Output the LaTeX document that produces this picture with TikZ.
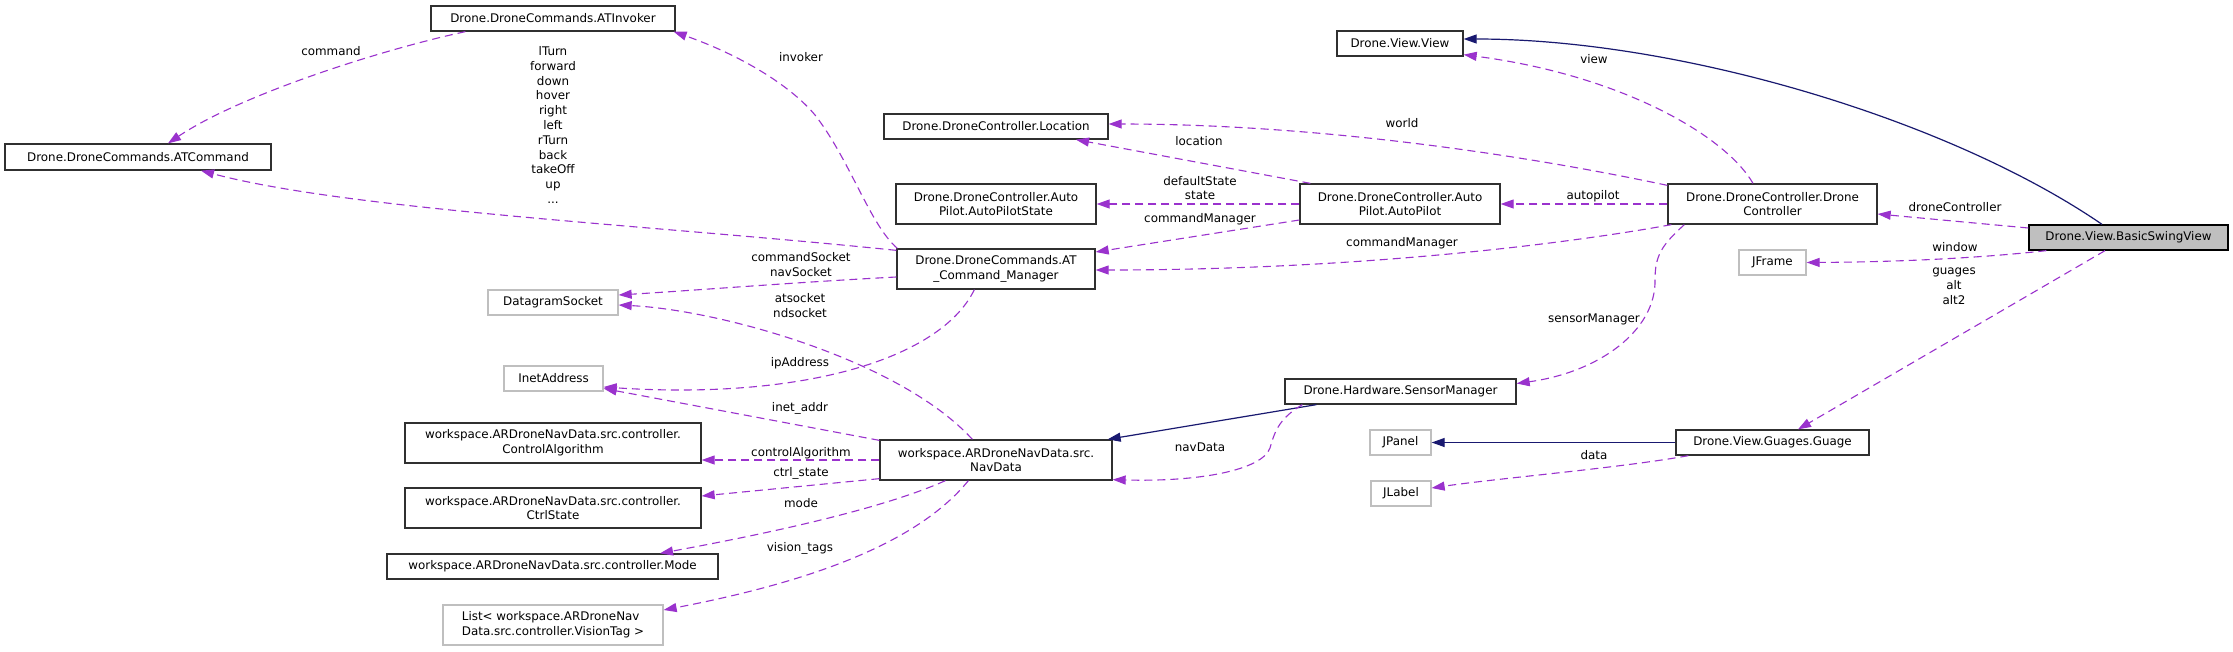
\documentclass[tikz,border=0pt]{standalone}
\usepackage{fontspec}
\setmainfont{DejaVu Sans}
\usetikzlibrary{arrows.meta,calc}
\definecolor{depc}{HTML}{9A32CD}
\definecolor{inhc}{HTML}{191970}
\definecolor{undoc}{HTML}{BFBFBF}
\definecolor{boxc}{HTML}{303030}
\begin{document}
\begin{tikzpicture}[x=1pt,y=-1pt,
  txt/.style={font=\fontsize{11.9}{14.8}\selectfont},
  cls/.style={txt,draw=boxc,line width=1.3pt,rectangle,inner sep=0pt,align=center},
  ucls/.style={cls,draw=undoc},
  lbl/.style={txt,inner sep=0pt,align=center},
  dep/.style={draw=depc,line width=1.1pt,dash pattern=on 8pt off 5pt,-{Triangle[length=13pt,width=9pt]}},
  inh/.style={draw=inhc,line width=1.2pt,-{Triangle[length=13pt,width=9pt]}}]
\fill[white] (0,0) rectangle (2233,651);
\useasboundingbox (0,0) rectangle (2233,651);

% nodes
\node[cls,minimum width=244pt,minimum height=25pt] (invk) at (553,18.5) {Drone.DroneCommands.ATInvoker};
\node[cls,minimum width=266pt,minimum height=26pt] (atcmd) at (138,157) {Drone.DroneCommands.ATCommand};
\node[ucls,minimum width=130pt,minimum height=25pt] (dgram) at (553,302.5) {DatagramSocket};
\node[ucls,minimum width=99pt,minimum height=25pt] (inet) at (553.5,378.5) {InetAddress};
\node[cls,minimum width=296pt,minimum height=40pt] (ctrlalg) at (553,443) {workspace.ARDroneNavData.src.controller.\\ControlAlgorithm};
\node[cls,minimum width=296pt,minimum height=40pt] (ctrlst) at (553,508) {workspace.ARDroneNavData.src.controller.\\CtrlState};
\node[cls,minimum width=331pt,minimum height=25pt] (mode) at (552.5,566.5) {workspace.ARDroneNavData.src.controller.Mode};
\node[ucls,minimum width=220pt,minimum height=40pt,align=left] (list) at (553,625) {List\textless{} workspace.ARDroneNav\\Data.src.controller.VisionTag \textgreater};
\node[cls,minimum width=126pt,minimum height=25pt] (view) at (1400,43.5) {Drone.View.View};
\node[cls,minimum width=224pt,minimum height=25pt] (loc) at (996,126.5) {Drone.DroneController.Location};
\node[cls,minimum width=200pt,minimum height=40pt] (apstate) at (996,204) {Drone.DroneController.Auto\\Pilot.AutoPilotState};
\node[cls,minimum width=200pt,minimum height=40pt] (ap) at (1400,204) {Drone.DroneController.Auto\\Pilot.AutoPilot};
\node[cls,minimum width=198pt,minimum height=40pt] (atcm) at (996,269) {Drone.DroneCommands.AT\\\_Command\_Manager};
\node[cls,minimum width=231pt,minimum height=25pt] (sens) at (1400.5,391.5) {Drone.Hardware.SensorManager};
\node[cls,minimum width=232pt,minimum height=40pt] (nav) at (996,460) {workspace.ARDroneNavData.src.\\NavData};
\node[ucls,minimum width=61pt,minimum height=25pt] (jpanel) at (1400.5,442.5) {JPanel};
\node[ucls,minimum width=60pt,minimum height=25pt] (jlabel) at (1401,493.5) {JLabel};
\node[cls,minimum width=209pt,minimum height=40pt] (dc) at (1772.5,204) {Drone.DroneController.Drone\\Controller};
\node[cls,fill=undoc,draw=black,minimum width=199pt,minimum height=25pt] (bsv) at (2128.5,237.5) {Drone.View.BasicSwingView};
\node[ucls,minimum width=67pt,minimum height=25pt] (jframe) at (1772.5,262.5) {JFrame};
\node[cls,minimum width=193pt,minimum height=25pt] (guage) at (1772.5,442.5) {Drone.View.Guages.Guage};

% edges
\draw[inh] ($(bsv.north)+(-26.5,0)$) .. controls (1950,120) and (1680,39) .. ($(view.east)+(0,-4.5)$);
\draw[dep] ($(dc.north)+(-19.5,0)$) .. controls (1725,135) and (1620,75) .. ($(view.south east)+(0,-2)$);
\draw[dep] ($(dc.north west)+(0,2)$) .. controls (1500,150) and (1300,124) .. ($(loc.east)+(0,-2.5)$);
\draw[dep] ($(ap.north west)+(11,0)$) -- ($(loc.south)+(80,0)$);
\draw[dep] (ap.west) -- (apstate.east);
\draw[dep] ($(ap.west)+(0,16)$) -- ($(atcm.east)+(0,-17)$);
\draw[dep] (dc.west) -- (ap.east);
\draw[dep] ($(dc.south west)+(4,0)$) .. controls (1560,245) and (1350,270) .. ($(atcm.east)+(0,1)$);
\draw[dep] ($(dc.south west)+(17,0)$) .. controls (1662,245) and (1655,255) .. (1655,280) .. controls (1656,330) and (1600,372) .. ($(sens.east)+(0,-8)$);
\draw[dep] ($(bsv.west)+(0,-9.5)$) -- ($(dc.east)+(0,10)$);
\draw[dep] ($(bsv.south west)+(18,0)$) .. controls (1980,258) and (1900,262) .. (jframe.east);
\draw[dep] ($(bsv.south)+(-23.5,0)$) -- ($(guage.north)+(25.5,0)$);
\draw[inh] (guage.west) -- (jpanel.east);
\draw[dep] ($(guage.south west)+(13,0)$) .. controls (1620,468) and (1500,478) .. ($(jlabel.east)+(0,-5.5)$);
\draw[dep] ($(atcm.north west)+(1,0)$) .. controls (870,225) and (850,160) .. (815,115) .. controls (790,85) and (740,55) .. ($(invk.south east)+(-2,0)$);
\draw[dep] ($(atcm.north west)+(0,2)$) .. controls (650,225) and (350,210) .. ($(atcmd.south)+(63,0)$);
\draw[dep] ($(invk.south west)+(35,0)$) .. controls (380,50) and (240,95) .. ($(atcmd.north)+(30,0)$);
\draw[dep] ($(atcm.west)+(0,8)$) .. controls (800,282) and (700,290) .. ($(dgram.east)+(0,-7.5)$);
\draw[dep] ($(nav.north west)+(93,0)$) .. controls (900,360) and (720,310) .. ($(dgram.east)+(0,2.5)$);
\draw[dep] ($(atcm.south west)+(78,0)$) .. controls (940,360) and (800,400) .. ($(inet.east)+(0,8.5)$);
\draw[dep] ($(nav.north west)+(0,1)$) -- ($(inet.east)+(0,10)$);
\draw[dep] (nav.west) -- ($(ctrlalg.east)+(0,17)$);
\draw[dep] ($(nav.south west)+(0,-2)$) -- ($(ctrlst.east)+(0,-12)$);
\draw[dep] ($(nav.south west)+(66,0)$) .. controls (880,510) and (760,535) .. ($(mode.north)+(107.5,0)$);
\draw[dep] ($(nav.south west)+(89,0)$) .. controls (920,540) and (820,580) .. ($(list.east)+(0,-15)$);
\draw[inh] ($(sens.south west)+(32,0)$) -- ($(nav.north east)+(-5,0)$);
\draw[dep] ($(sens.south west)+(18,0)$) .. controls (1280,418) and (1275,430) .. (1270,448) .. controls (1262,470) and (1200,482) .. ($(nav.south east)+(0,-1)$);

% labels
\node[lbl] (l-command) at (331,51) {command};
\node[lbl] (l-cmds) at (553,125) {lTurn\\forward\\down\\hover\\right\\left\\rTurn\\back\\takeOff\\up\\...};
\node[lbl] (l-invoker) at (801,57) {invoker};
\node[lbl] (l-view) at (1594,59) {view};
\node[lbl] (l-world) at (1402,123) {world};
\node[lbl] (l-location) at (1199,141) {location};
\node[lbl] (l-state) at (1200,188) {defaultState\\state};
\node[lbl] (l-cm1) at (1200,219) {commandManager};
\node[lbl] (l-autopilot) at (1593,196) {autopilot};
\node[lbl] (l-dc) at (1955,207) {droneController};
\node[lbl] (l-cm2) at (1402,243) {commandManager};
\node[lbl] (l-window) at (1955,247) {window};
\node[lbl] (l-sock) at (801,264.5) {commandSocket\\navSocket};
\node[lbl] (l-guages) at (1954,286) {guages\\alt\\alt2};
\node[lbl] (l-atsock) at (800,305.5) {atsocket\\ndsocket};
\node[lbl] (l-sens) at (1594,319) {sensorManager};
\node[lbl] (l-ip) at (800,363) {ipAddress};
\node[lbl] (l-inet) at (800,408) {inet\_addr};
\node[lbl] (l-navdata) at (1200,447) {navData};
\node[lbl] (l-ctrlalg) at (801,453) {controlAlgorithm};
\node[lbl] (l-data) at (1594,455) {data};
\node[lbl] (l-ctrlst) at (801,473) {ctrl\_state};
\node[lbl] (l-mode) at (801,503) {mode};
\node[lbl] (l-vision) at (800,548) {vision\_tags};
\end{tikzpicture}
\end{document}
